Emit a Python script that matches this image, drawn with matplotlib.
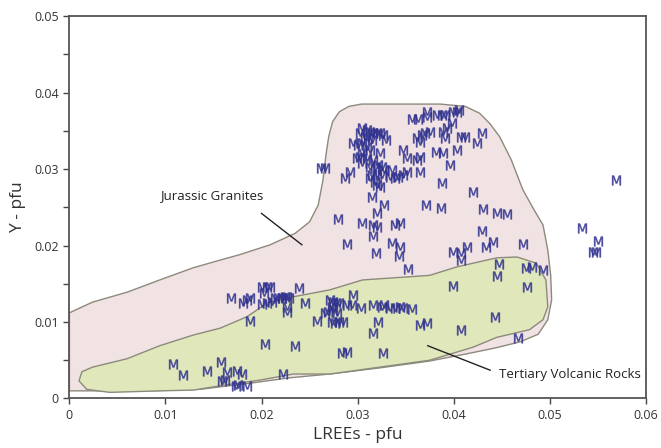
import matplotlib
matplotlib.use("Agg")
import matplotlib.pyplot as plt
from matplotlib.patches import Polygon
from matplotlib.ticker import MultipleLocator, FuncFormatter

plt.rcParams['font.family'] = ['Open Sans', 'DejaVu Sans']

# M analyses (LREEs pfu, Y pfu)
# upper cluster
lree_upper = [0.0262, 0.0266, 0.0357, 0.0363, 0.0372, 0.0372, 0.0383, 0.0388, 0.0391, 0.0399,
              0.0403, 0.0406, 0.0305, 0.0310, 0.0313, 0.0316, 0.0320, 0.0323, 0.0326, 0.0330,
              0.0302, 0.0308, 0.0311, 0.0315, 0.0295, 0.0300, 0.0305, 0.0310, 0.0313, 0.0305,
              0.0302, 0.0299, 0.0310, 0.0316, 0.0323, 0.0305, 0.0313, 0.0318, 0.0321, 0.0325,
              0.0328, 0.0336, 0.0334, 0.0339, 0.0342, 0.0347, 0.0351, 0.0365, 0.0313, 0.0318,
              0.0320, 0.0323, 0.0292, 0.0287, 0.0315, 0.0320, 0.0325, 0.0347, 0.0351, 0.0362,
              0.0365, 0.0362, 0.0367, 0.0370, 0.0375, 0.0365, 0.0389, 0.0393, 0.0398, 0.0391,
              0.0382, 0.0389, 0.0403, 0.0408, 0.0412, 0.0424, 0.0429, 0.0396, 0.0388, 0.0420,
              0.0315]
y_upper = [0.0301, 0.0301, 0.0365, 0.0365, 0.0374, 0.0368, 0.0371, 0.0371, 0.0371, 0.0374,
           0.0374, 0.0377, 0.0354, 0.0351, 0.0348, 0.0347, 0.0347, 0.0347, 0.0344, 0.0338,
           0.0347, 0.0342, 0.0340, 0.0338, 0.0334, 0.0331, 0.0334, 0.0329, 0.0325, 0.0321,
           0.0316, 0.0314, 0.0314, 0.0312, 0.0321, 0.0308, 0.0303, 0.0301, 0.0305, 0.0303,
           0.0299, 0.0299, 0.0290, 0.0288, 0.0290, 0.0292, 0.0296, 0.0296, 0.0288, 0.0283,
           0.0279, 0.0276, 0.0296, 0.0288, 0.0292, 0.0292, 0.0292, 0.0325, 0.0314, 0.0312,
           0.0316, 0.0340, 0.0344, 0.0347, 0.0348, 0.0335, 0.0348, 0.0354, 0.0360, 0.0340,
           0.0322, 0.0321, 0.0325, 0.0342, 0.0342, 0.0334, 0.0347, 0.0305, 0.0282, 0.0270,
           0.0263]

# middle and far right
lree_mid = [0.0328, 0.0320, 0.0280, 0.0305, 0.0316, 0.0320, 0.0339, 0.0344, 0.0316, 0.0289,
            0.0336, 0.0344, 0.0319, 0.0343, 0.0352, 0.0371, 0.0387, 0.0431, 0.0445, 0.0456,
            0.0430, 0.0399, 0.0408, 0.0414, 0.0408, 0.0434, 0.0441, 0.0472, 0.0447, 0.0475,
            0.0482, 0.0493, 0.0445, 0.0399, 0.0476,
            0.0569, 0.0534, 0.0550, 0.0545, 0.0548]
y_mid = [0.0253, 0.0242, 0.0235, 0.0229, 0.0227, 0.0224, 0.0227, 0.0229, 0.0212, 0.0202,
         0.0203, 0.0198, 0.0190, 0.0186, 0.0169, 0.0253, 0.0249, 0.0248, 0.0242, 0.0241,
         0.0219, 0.0191, 0.0190, 0.0198, 0.0181, 0.0198, 0.0205, 0.0202, 0.0176, 0.0171,
         0.0172, 0.0168, 0.0160, 0.0147, 0.0146,
         0.0286, 0.0223, 0.0206, 0.0191, 0.0191]

# lower cluster
lree_low = [0.0168, 0.0181, 0.0185, 0.0188, 0.0200, 0.0206, 0.0209, 0.0203, 0.0200, 0.0206,
            0.0211, 0.0214, 0.0217, 0.0221, 0.0224, 0.0227, 0.0229, 0.0226, 0.0226, 0.0239,
            0.0245, 0.0188, 0.0271, 0.0274, 0.0278, 0.0281, 0.0289, 0.0294, 0.0273, 0.0274,
            0.0269, 0.0266, 0.0279, 0.0258, 0.0273, 0.0276, 0.0281, 0.0285, 0.0295, 0.0304,
            0.0316, 0.0325, 0.0328, 0.0334, 0.0339, 0.0344, 0.0347, 0.0357, 0.0321, 0.0316,
            0.0204, 0.0235, 0.0365, 0.0372, 0.0408, 0.0443, 0.0467, 0.0284, 0.0289, 0.0326,
            0.0108, 0.0118, 0.0143, 0.0158, 0.0164, 0.0162, 0.0159, 0.0174, 0.0180, 0.0173,
            0.0175, 0.0185, 0.0222]
y_low = [0.0131, 0.0125, 0.0129, 0.0131, 0.0146, 0.0146, 0.0146, 0.0138, 0.0124, 0.0125,
         0.0126, 0.0131, 0.0131, 0.0131, 0.0133, 0.0133, 0.0131, 0.0120, 0.0113, 0.0144,
         0.0125, 0.0101, 0.0129, 0.0126, 0.0125, 0.0125, 0.0122, 0.0122, 0.0120, 0.0116,
         0.0113, 0.0112, 0.0112, 0.0101, 0.0100, 0.0099, 0.0100, 0.0100, 0.0135, 0.0118,
         0.0122, 0.0120, 0.0122, 0.0118, 0.0118, 0.0120, 0.0118, 0.0117, 0.0100, 0.0086,
         0.0071, 0.0069, 0.0096, 0.0099, 0.0090, 0.0107, 0.0079, 0.0059, 0.0061, 0.0059,
         0.0045, 0.0031, 0.0036, 0.0048, 0.0035, 0.0024, 0.0023, 0.0036, 0.0032, 0.0016,
         0.0018, 0.0016, 0.0032]

# field outlines
granite_x = [0.0, 0.0024, 0.0060, 0.0094, 0.0129, 0.0157, 0.0177, 0.0209, 0.0235, 0.0250,
             0.0259, 0.0264, 0.0267, 0.0270, 0.0274, 0.0281, 0.0291, 0.0304, 0.0344, 0.0386,
             0.0412, 0.0427, 0.0438, 0.0448, 0.0460, 0.0472, 0.0484, 0.0493, 0.0498, 0.0501,
             0.0502, 0.0498, 0.0488, 0.0469, 0.0443, 0.0412, 0.0375, 0.0323, 0.0271, 0.0229,
             0.0188, 0.0136, 0.0084, 0.0032, 0.0]
granite_y = [0.0112, 0.0126, 0.0139, 0.0155, 0.0171, 0.0181, 0.0188, 0.0201, 0.0216, 0.0231,
             0.0253, 0.0286, 0.0318, 0.0343, 0.0362, 0.0375, 0.0382, 0.0385, 0.0385, 0.0385,
             0.0382, 0.0373, 0.0359, 0.0342, 0.0312, 0.0273, 0.0246, 0.0227, 0.0194, 0.0161,
             0.0129, 0.0103, 0.0084, 0.0074, 0.0066, 0.0058, 0.0049, 0.0040, 0.0032, 0.0027,
             0.0020, 0.0012, 0.0010, 0.0010, 0.0010]

volcanic_x = [0.0010, 0.0013, 0.0024, 0.0060, 0.0094, 0.0129, 0.0157, 0.0185, 0.0206, 0.0233,
              0.0271, 0.0305, 0.0375, 0.0403, 0.0445, 0.0466, 0.0486, 0.0496, 0.0498, 0.0493,
              0.0479, 0.0445, 0.0420, 0.0375, 0.0323, 0.0271, 0.0233, 0.0198, 0.0164, 0.0129,
              0.0094, 0.0042, 0.0018]
volcanic_y = [0.0023, 0.0035, 0.0041, 0.0052, 0.0069, 0.0083, 0.0092, 0.0107, 0.0125, 0.0133,
              0.0142, 0.0155, 0.0161, 0.0172, 0.0184, 0.0185, 0.0177, 0.0155, 0.0120, 0.0103,
              0.0090, 0.0080, 0.0067, 0.0050, 0.0041, 0.0032, 0.0032, 0.0024, 0.0018, 0.0011,
              0.0010, 0.0008, 0.0012]

fig = plt.figure(figsize=(6.61, 4.48), dpi=100)
ax = fig.add_axes([0.105, 0.1105, 0.872, 0.8535])

edge = '#8c8a7c'
ax.add_patch(Polygon(list(zip(granite_x, granite_y)), closed=True,
                     facecolor='#f1e3e3', edgecolor=edge, lw=1.0, joinstyle='round', zorder=1))
ax.add_patch(Polygon(list(zip(volcanic_x, volcanic_y)), closed=True,
                     facecolor='#e0e7bb', edgecolor=edge, lw=1.0, joinstyle='round', zorder=2))

mcol = '#30328f'
for xs, ys in [(lree_upper, y_upper), (lree_mid, y_mid), (lree_low, y_low)]:
    ax.plot(xs, ys, ls='none', marker=r'$\mathsf{M}$', ms=7, mew=0.3, color=mcol,
            alpha=0.85, zorder=3)

# labels with leader lines
ax.text(0.0094, 0.0265, 'Jurassic Granites', fontsize=9.5, color='#222222',
        va='center', ha='left', zorder=4)
ax.plot([0.0200, 0.0242], [0.0242, 0.0201], color='#222222', lw=1.0, zorder=4)
ax.text(0.0447, 0.0032, 'Tertiary Volcanic Rocks', fontsize=9.5, color='#222222',
        va='center', ha='left', zorder=4)
ax.plot([0.0373, 0.0438], [0.0069, 0.0037], color='#222222', lw=1.0, zorder=4)

ax.set_xlim(0, 0.06)
ax.set_ylim(0, 0.05)
ax.xaxis.set_major_locator(MultipleLocator(0.01))
ax.yaxis.set_major_locator(MultipleLocator(0.01))
ax.yaxis.set_minor_locator(MultipleLocator(0.005))
fmt = FuncFormatter(lambda v, p: '0' if abs(v) < 1e-9 else '%.2f' % v)
ax.xaxis.set_major_formatter(fmt)
ax.yaxis.set_major_formatter(fmt)
ax.tick_params(axis='both', which='both', direction='out', length=4, width=1,
               color='#444444', labelsize=9, labelcolor='#333333')

for s in ax.spines.values():
    s.set_color('#555555')
    s.set_linewidth(1.3)

ax.set_xlabel('LREEs - pfu', fontsize=12.5, color='#333333', labelpad=4)
ax.set_ylabel('Y - pfu', fontsize=12.5, color='#333333', labelpad=6)

fig.savefig('out.png', dpi=100)
